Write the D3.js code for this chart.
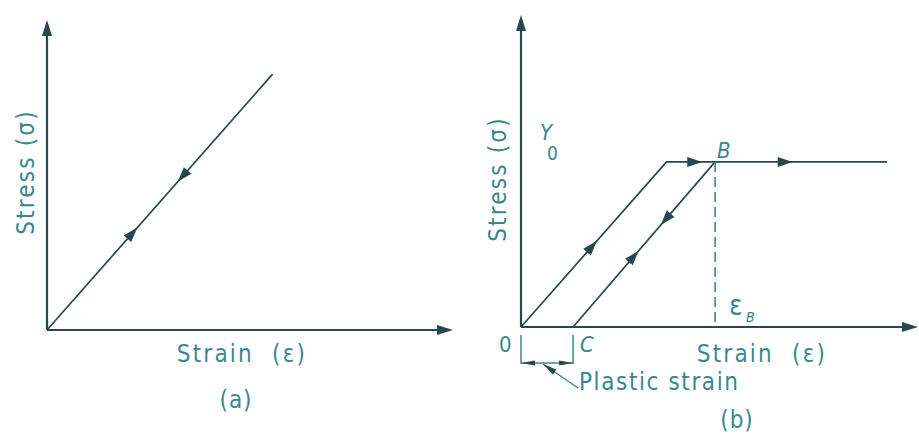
<!DOCTYPE html>
<html>
<head>
<meta charset="utf-8">
<script src="https://cdn.jsdelivr.net/npm/d3@7"></script>
<style>
  html, body { margin: 0; padding: 0; background: #fff; }
  svg text { font-family: "DejaVu Sans Condensed", "DejaVu Sans", sans-serif; fill: #3b8790; white-space: pre; }
</style>
</head>
<body>
<svg id="chart" width="919" height="439"></svg>
<script>
// ---- Panel (a): purely elastic loading/unloading ----
const elasticLine = [[0, 0], [5.0, 8.5]];
// arrows along the line: [segment index, fraction along it, direction (+1 forward, -1 backward)]
const elasticArrows = [[0, 0.38, 1], [0, 0.60, -1]];

// ---- Panel (b): elastic–perfectly plastic with unloading ----
const yieldStress = 5.45;
const strainB = 4.4;
const strainC = 1.18;
const loadingPath = [[0, 0], [3.3, yieldStress], [8.3, yieldStress]];
const unloadingPath = [[strainB, yieldStress], [strainC, 0]];
const loadingArrows = [[0, 0.49, 1], [1, 0.13, 1], [1, 0.54, 1]];
const unloadingArrows = [[0, 0.35, 1], [0, 0.57, -1]];

// axis extents (strain, stress)
const axisMax = [9, 10.3];

const lineColor = "#27484d";
const textColor = "#3b8790";
const svg = d3.select("#chart");

function arrowHead(g, x, y, angle, len, half) {
  const pts = [[0, 0], [-len, -half], [-len, half]];
  g.append("path")
    .attr("d", d3.line()(pts) + "Z")
    .attr("transform", `translate(${x},${y}) rotate(${angle * 180 / Math.PI})`)
    .attr("fill", lineColor);
}

function drawAxes(g, x, y) {
  const ox = x(0), oy = y(0);
  g.append("line").attr("x1", ox).attr("y1", oy).attr("x2", x(axisMax[0]) - 4).attr("y2", oy)
    .attr("stroke", lineColor).attr("stroke-width", 2.2);
  g.append("line").attr("x1", ox).attr("y1", oy).attr("x2", ox).attr("y2", y(axisMax[1]) + 4)
    .attr("stroke", lineColor).attr("stroke-width", 2.2);
  arrowHead(g, x(axisMax[0]), oy, 0, 16, 5);
  arrowHead(g, ox, y(axisMax[1]), -Math.PI / 2, 16, 5);
}

function drawPath(g, x, y, pts, arrows) {
  g.append("path")
    .attr("d", d3.line().x(d => x(d[0])).y(d => y(d[1]))(pts))
    .attr("fill", "none").attr("stroke", lineColor).attr("stroke-width", 1.7)
    .attr("stroke-linejoin", "miter");
  arrows.forEach(([i, t, dir]) => {
    const p0 = pts[i], p1 = pts[i + 1];
    const px0 = x(p0[0]), py0 = y(p0[1]), px1 = x(p1[0]), py1 = y(p1[1]);
    const cx = px0 + (px1 - px0) * t, cy = py0 + (py1 - py0) * t;
    let ang = Math.atan2(py1 - py0, px1 - px0);
    if (dir < 0) ang += Math.PI;
    // tip sits slightly ahead of the centre point
    const tip = [cx + Math.cos(ang) * 7, cy + Math.sin(ang) * 7];
    arrowHead(g, tip[0], tip[1], ang, 15, 5);
  });
}

function label(g, txt, x, y, opts = {}) {
  const t = g.append("text").attr("x", x).attr("y", y)
    .attr("font-size", opts.size || 24)
    .attr("letter-spacing", opts.spacing == null ? 2.2 : opts.spacing)
    .attr("text-anchor", opts.anchor || "start");
  if (opts.italic) t.attr("font-style", "italic");
  if (opts.rotate) t.attr("transform", `rotate(-90,${x},${y})`);
  t.text(txt);
  return t;
}

// ---------- Panel (a) ----------
const xa = d3.scaleLinear().domain([0, axisMax[0]]).range([47, 453]);
const ya = d3.scaleLinear().domain([0, axisMax[1]]).range([330, 20]);
const ga = svg.append("g");
drawAxes(ga, xa, ya);
drawPath(ga, xa, ya, elasticLine, elasticArrows);
label(ga, "Stress (σ)", 34, 172, { rotate: true, anchor: "middle" });
label(ga, "Strain  (ε)", 242, 362, { anchor: "middle" });
label(ga, "(a)", 236, 408, { anchor: "middle", spacing: 1 });

// ---------- Panel (b) ----------
const xb = d3.scaleLinear().domain([0, axisMax[0]]).range([521, 918]);
const yb = d3.scaleLinear().domain([0, axisMax[1]]).range([327, 15]);
const gb = svg.append("g");
drawAxes(gb, xb, yb);
drawPath(gb, xb, yb, loadingPath, loadingArrows);
drawPath(gb, xb, yb, unloadingPath, unloadingArrows);

// dashed drop line from B to the strain axis
gb.append("line")
  .attr("x1", xb(strainB)).attr("y1", yb(yieldStress))
  .attr("x2", xb(strainB)).attr("y2", yb(0))
  .attr("stroke", textColor).attr("stroke-width", 1.6)
  .attr("stroke-dasharray", "10,5");

// plastic strain dimension below the axis
const dimY = yb(0) + 36;
[0, strainC].forEach(s => {
  gb.append("line").attr("x1", xb(s)).attr("x2", xb(s))
    .attr("y1", yb(0) + 8).attr("y2", dimY + 1)
    .attr("stroke", textColor).attr("stroke-width", 1.5);
});
gb.append("line").attr("x1", xb(0)).attr("x2", xb(strainC))
  .attr("y1", dimY).attr("y2", dimY)
  .attr("stroke", textColor).attr("stroke-width", 1.5);
arrowHead(gb, xb(0), dimY, Math.PI, 14, 2.5);
arrowHead(gb, xb(strainC), dimY, 0, 14, 2.5);
// leader to the label
const lx0 = xb(0) + 22, ly0 = dimY + 1;
const lx1 = xb(0) + 57, ly1 = dimY + 25;
gb.append("line").attr("x1", lx0).attr("y1", ly0).attr("x2", lx1).attr("y2", ly1)
  .attr("stroke", textColor).attr("stroke-width", 1.5);
arrowHead(gb, lx0, ly0, Math.atan2(ly0 - ly1, lx0 - lx1), 14, 3);

label(gb, "Stress (σ)", 506, 179, { rotate: true, anchor: "middle" });
label(gb, "Strain  (ε)", 762, 362, { anchor: "middle" });
label(gb, "Plastic strain", 579, 390, { spacing: 1.6 });
label(gb, "(b)", 737, 428, { anchor: "middle", spacing: 1 });
label(gb, "0", xb(0) - 22, yb(0) + 25, { spacing: 0, size: 22 });
label(gb, "C", xb(strainC) + 7, yb(0) + 25, { italic: true, spacing: 0, size: 22 });
label(gb, "B", xb(strainB) + 2, yb(yieldStress) - 4, { italic: true, spacing: 0, size: 22 });

label(gb, "Y", 540, 140, { italic: true, spacing: 0, size: 22 });
label(gb, "0", 547, 160, { size: 19, spacing: 0 });

label(gb, "ε", xb(strainB) + 14, yb(0) - 12, { spacing: 0, size: 28 });
label(gb, "B", xb(strainB) + 31, yb(0) - 5, { size: 14, italic: true, spacing: 0 });
</script>
</body>
</html>
